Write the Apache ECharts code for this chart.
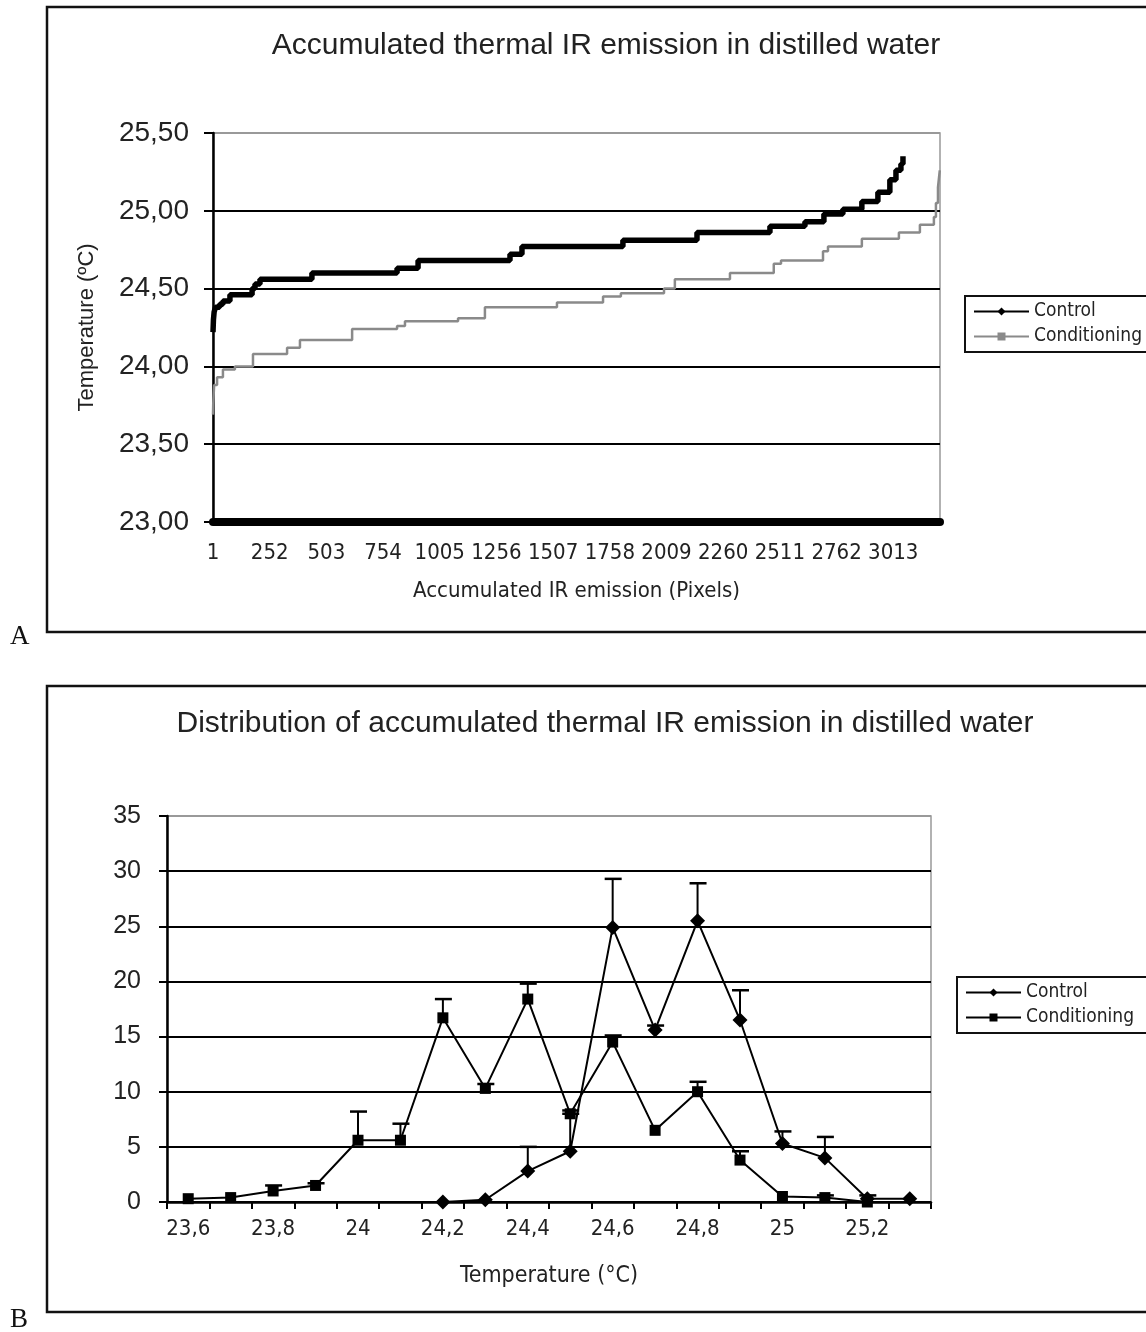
<!DOCTYPE html>
<html><head><meta charset="utf-8">
<script src="https://cdn.jsdelivr.net/npm/echarts@6/dist/echarts.min.js"></script>
<style>html,body{margin:0;padding:0;background:#fff}#c{width:1146px;height:1332px}</style>
</head><body><div id="c"></div>
<script>
// ---------- Panel A: accumulated thermal IR emission (sorted pixels) ----------
const aTickPixels = [1,252,503,754,1005,1256,1507,1758,2009,2260,2511,2762,3013];
// step breakpoints: pixel rank where a temperature level starts, and the level (°C)
const aControlPixel = [1,3,6,12,30,45,76,174,187,209,439,816,909,1316,1369,1816,2144,2467,2622,2706,2790,2874,2945,2998,3025,3047,3056];
const aControlTemp  = [24.22,24.30,24.35,24.38,24.40,24.42,24.46,24.50,24.53,24.56,24.60,24.63,24.68,24.72,24.77,24.81,24.86,24.90,24.93,24.98,25.01,25.06,25.12,25.20,25.26,25.30,25.35];
const aCondPixel = [1,2,4,6,19,45,98,178,329,386,617,816,851,1086,1205,1524,1728,1807,1998,2046,2290,2484,2516,2702,2724,2874,3038,3131,3193,3202,3211,3219];
const aCondTemp  = [23.69,23.76,23.82,23.88,23.93,23.98,24.00,24.08,24.12,24.17,24.24,24.26,24.29,24.31,24.38,24.41,24.45,24.47,24.50,24.56,24.60,24.66,24.68,24.74,24.77,24.82,24.86,24.91,24.96,25.05,25.15,25.26];

// ---------- Panel B: distribution ----------
const bTemps = ['23,6','23,7','23,8','23,9','24','24,1','24,2','24,3','24,4','24,5','24,6','24,7','24,8','24,9','25','25,1','25,2','25,3'];
const bControl    = [null,null,null,null,null,null,0,0.2,2.8,4.6,24.9,15.6,25.5,16.5,5.3,4.0,0.3,0.3];
const bControlErr = [null,null,null,null,null,null,null,null,5.0,8.0,29.3,16.0,28.9,19.2,6.4,5.9,0.6,null];
const bCond       = [0.3,0.4,1.0,1.5,5.6,5.6,16.7,10.3,18.4,8.0,14.5,6.5,10.0,3.8,0.5,0.4,0,null];
const bCondErr    = [null,null,1.5,1.7,8.2,7.1,18.4,10.7,19.8,8.3,15.1,null,10.9,4.6,null,0.6,null,null];

const NARROW = "'DejaVu Sans Condensed','Liberation Sans Narrow','Liberation Sans',sans-serif";
const SANS = "'Liberation Sans',Arial,sans-serif";
const B = ' ·B'; // suffix that keeps panel-B series names distinct for their own legend

function pairs(xs, ys){ return xs.map((x,i)=>[x, ys[i]]); }
function errSeries(vals, errs){
  const data = [];
  vals.forEach((v,i)=>{ if(v!=null && errs[i]!=null) data.push([i, v, errs[i]]); });
  return {
    type:'custom', xAxisIndex:1, yAxisIndex:1, z:2, silent:true,
    encode:{x:0, y:[1,2]},
    renderItem(params, api){
      const lo = api.coord([api.value(0), api.value(1)]);
      const hi = api.coord([api.value(0), api.value(2)]);
      return {type:'group', children:[
        {type:'line', shape:{x1:lo[0],y1:lo[1],x2:hi[0],y2:hi[1]}, style:{stroke:'#000',lineWidth:2}},
        {type:'line', shape:{x1:hi[0]-8,y1:hi[1],x2:hi[0]+9,y2:hi[1]}, style:{stroke:'#000',lineWidth:2.5}}
      ]};
    },
    data
  };
}
const legendCommon = {
  orient:'vertical', borderColor:'#111', borderWidth:2, padding:[6,30,6,8], itemGap:6,
  itemWidth:55, itemHeight:10, textStyle:{fontFamily:NARROW, fontSize:19, color:'#222'},
  formatter:n=>n.replace(B,'')
};

const chart = echarts.init(document.getElementById('c'), null, {renderer:'canvas'});
chart.setOption({
  animation:false,
  backgroundColor:'#fff',
  title:[
    {text:'Accumulated thermal IR emission in distilled water', left:601, top:26, textAlign:'center',
     textStyle:{fontFamily:SANS, fontSize:30, fontWeight:'normal', color:'#222'}},
    {text:'Distribution of accumulated thermal IR emission in distilled water', left:600, top:704, textAlign:'center',
     textStyle:{fontFamily:SANS, fontSize:30, fontWeight:'normal', color:'#222'}}
  ],
  graphic:[
    {type:'rect', shape:{x:47,y:7,width:1130,height:625}, style:{fill:'none', stroke:'#111', lineWidth:2.5}, z:-1},
    {type:'rect', shape:{x:47,y:686,width:1130,height:626}, style:{fill:'none', stroke:'#111', lineWidth:2.5}, z:-1},
    {type:'text', left:10, top:623, style:{text:'A', font:"27px 'Liberation Serif',serif", fill:'#111'}},
    {type:'text', left:10, top:1306, style:{text:'B', font:"27px 'Liberation Serif',serif", fill:'#111'}}
  ],
  legend:[
    Object.assign({data:['Control','Conditioning'], left:965, top:296, lineStyle:{width:2}}, legendCommon),
    Object.assign({data:['Control'+B,'Conditioning'+B], left:957, top:977}, legendCommon)
  ],
  grid:[
    {left:213, top:133, width:727, height:389, show:true, borderColor:'#999', borderWidth:1.5},
    {left:167, top:816, width:764, height:386, show:true, borderColor:'#999', borderWidth:1.5}
  ],
  xAxis:[
    {type:'value', gridIndex:0, min:1, max:3220,
     name:'Accumulated IR emission (Pixels)', nameLocation:'middle', nameGap:58,
     nameTextStyle:{fontFamily:NARROW, fontSize:22, color:'#222'},
     axisLine:{lineStyle:{color:'#000', width:8}}, axisTick:{show:false},
     splitLine:{show:false},
     axisLabel:{customValues:aTickPixels, formatter:v=>String(v), margin:20, fontFamily:NARROW, fontSize:22, color:'#222'}},
    {type:'category', gridIndex:1, data:bTemps, boundaryGap:true,
     name:'Temperature (°C)', nameLocation:'middle', nameGap:63,
     nameTextStyle:{fontFamily:NARROW, fontSize:23, color:'#222'},
     axisLine:{lineStyle:{color:'#000', width:2.5}},
     axisTick:{show:true, interval:0, length:7, lineStyle:{color:'#000', width:2}},
     axisLabel:{interval:1, margin:16, fontFamily:NARROW, fontSize:22, color:'#222'},
     splitLine:{show:false}}
  ],
  yAxis:[
    {type:'value', gridIndex:0, min:23, max:25.5, interval:0.5,
     name:'Temperature (ºC)', nameLocation:'middle', nameGap:115,
     nameTextStyle:{fontFamily:SANS, fontSize:22, color:'#222'},
     axisLine:{show:true, lineStyle:{color:'#000', width:2.5}},
     axisTick:{show:true, length:9, lineStyle:{color:'#000', width:2}},
     axisLabel:{formatter:v=>v.toFixed(2).replace('.',','), margin:24, fontFamily:SANS, fontSize:28, color:'#222'},
     splitLine:{lineStyle:{color:['#000','#000','#000','#000','#000','#999'], width:2}}},
    {type:'value', gridIndex:1, min:0, max:35, interval:5,
     axisLine:{show:true, lineStyle:{color:'#000', width:2.5}},
     axisTick:{show:true, length:8, lineStyle:{color:'#000', width:2}},
     axisLabel:{margin:26, fontFamily:SANS, fontSize:25, color:'#222'},
     splitLine:{lineStyle:{color:['#000','#000','#000','#000','#000','#000','#000','#999'], width:2}}}
  ],
  series:[
    {name:'Control', type:'line', xAxisIndex:0, yAxisIndex:0, step:'end', symbol:'diamond', symbolSize:8, showSymbol:false,
     data:pairs(aControlPixel, aControlTemp), lineStyle:{color:'#000', width:5.5}, itemStyle:{color:'#000'}, z:4},
    {name:'Conditioning', type:'line', xAxisIndex:0, yAxisIndex:0, step:'end', symbol:'rect', symbolSize:4, showSymbol:false,
     data:pairs(aCondPixel, aCondTemp), lineStyle:{color:'#8a8a8a', width:2.5}, itemStyle:{color:'#8a8a8a'}, z:3},
    errSeries(bCond, bCondErr),
    errSeries(bControl, bControlErr),
    {name:'Control'+B, type:'line', xAxisIndex:1, yAxisIndex:1, data:bControl, symbol:'diamond', symbolSize:15,
     showAllSymbol:true, connectNulls:false,
     lineStyle:{color:'#000', width:2}, itemStyle:{color:'#000'}, z:5},
    {name:'Conditioning'+B, type:'line', xAxisIndex:1, yAxisIndex:1, data:bCond, symbol:'rect', symbolSize:11,
     showAllSymbol:true,
     lineStyle:{color:'#000', width:2}, itemStyle:{color:'#000'}, z:5}
  ]
});
</script>
</body></html>
